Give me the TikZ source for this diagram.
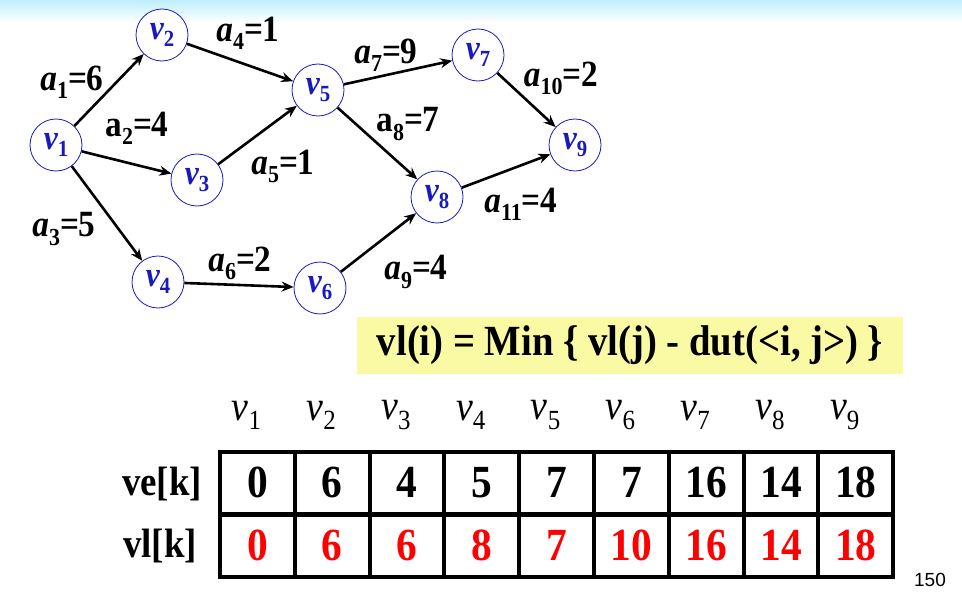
\documentclass[tikz,border=0pt]{standalone}
\usepackage{graphicx}
\usepackage{fontspec}
\setmainfont{Liberation Serif}[FakeStretch=0.9]
\newfontfamily\pagefont{Liberation Sans}
\usetikzlibrary{arrows.meta,positioning}
\definecolor{vblue}{RGB}{25,25,190}
\definecolor{boxyel}{RGB}{250,250,165}
\definecolor{topsky}{RGB}{190,238,252}
\newcommand{\low}[1]{\raisebox{-0.22em}{\scalebox{0.66}{\upshape #1}}}

\begin{document}
\begin{tikzpicture}[x=1pt,y=-1pt,
  vx/.style={circle,draw=vblue,fill=white,line width=0.8pt,minimum size=52pt,inner sep=0pt,
    text=vblue,font=\fontsize{35}{35}\selectfont\bfseries\itshape},
  lab/.style={inner sep=0pt,font=\fontsize{37}{37}\selectfont\bfseries},
  ar/.style={line width=2.6pt,-{Stealth[length=12pt,width=10pt,inset=4pt]}},
  cell/.style={draw,line width=4pt,minimum width=74.8pt,minimum height=62pt,inner sep=0pt,
    font=\fontsize{46}{46}\selectfont\bfseries},
  hd/.style={inner sep=0pt,font=\fontsize{42}{42}\selectfont\itshape},
  rowlab/.style={inner sep=0pt,font=\fontsize{41}{41}\selectfont\bfseries}]
\useasboundingbox (0,0) rectangle (962,594);
\shade[top color=topsky,bottom color=white] (0,0) rectangle (962,22);
% graph
\node[vx] (v1) at (56,145) {v\low{1}};
\node[vx] (v2) at (162,35) {v\low{2}};
\node[vx] (v3) at (197,180) {v\low{3}};
\node[vx] (v4) at (158,282) {v\low{4}};
\node[vx] (v5) at (318,90) {v\low{5}};
\node[vx] (v6) at (320,288) {v\low{6}};
\node[vx] (v7) at (478,55) {v\low{7}};
\node[vx] (v8) at (437,197) {v\low{8}};
\node[vx] (v9) at (575,145) {v\low{9}};
\draw[ar] (v1)--(v2);\draw[ar] (v1)--(v3);\draw[ar] (v1)--(v4);
\draw[ar] (v2)--(v5);\draw[ar] (v3)--(v5);\draw[ar] (v4)--(v6);
\draw[ar] (v5)--(v7);\draw[ar] (v5)--(v8);\draw[ar] (v6)--(v8);
\draw[ar] (v7)--(v9);\draw[ar] (v8)--(v9);
\node[lab] (a1) at (72,82) {\textit{a}\low{1}=6};
\node[lab] (a2) at (137,128) {a\low{2}=4};
\node[lab] (a3) at (64,229) {\textit{a}\low{3}=5};
\node[lab] (a4) at (248,33) {\textit{a}\low{4}=1};
\node[lab] (a5) at (283,166) {\textit{a}\low{5}=1};
\node[lab] (a6) at (240,263) {\textit{a}\low{6}=2};
\node[lab] (a7) at (386,55) {\textit{a}\low{7}=9};
\node[lab] (a8) at (408,124) {a\low{8}=7};
\node[lab] (a9) at (416,272) {\textit{a}\low{9}=4};
\node[lab] (a10) at (561,78) {\textit{a}\low{10}=2};
\node[lab] (a11) at (521,204) {\textit{a}\low{11}=4};
% rule
\node[fill=boxyel,minimum width=546pt,minimum height=57pt,inner sep=0pt,
  font=\fontsize{43}{43}\selectfont\bfseries] (rule) at (630,345.5)
  {vl(i) = Min \{ vl(j) - dut(<i, j>) \}};
% table
\foreach \e [count=\i] in {0,6,4,5,7,7,16,14,18}{
  \node[hd] (h\i) at ({220+74.8*(\i-0.5)-11},415) {v\low{\i}};
  \node[cell] (e\i) at ({220+74.8*(\i-0.5)},482.5) {\e};
}
\foreach \e [count=\i] in {0,6,6,8,7,10,16,14,18}
  \node[cell,text=red] (l\i) at ({220+74.8*(\i-0.5)},545.5) {\e};
\node[rowlab] (ve) at (162,484) {ve[k]};
\node[rowlab] (vl) at (160,546) {vl[k]};
\node[font=\pagefont\fontsize{19}{19}\selectfont] (pg) at (930,580) {150};
\end{tikzpicture}
\end{document}
